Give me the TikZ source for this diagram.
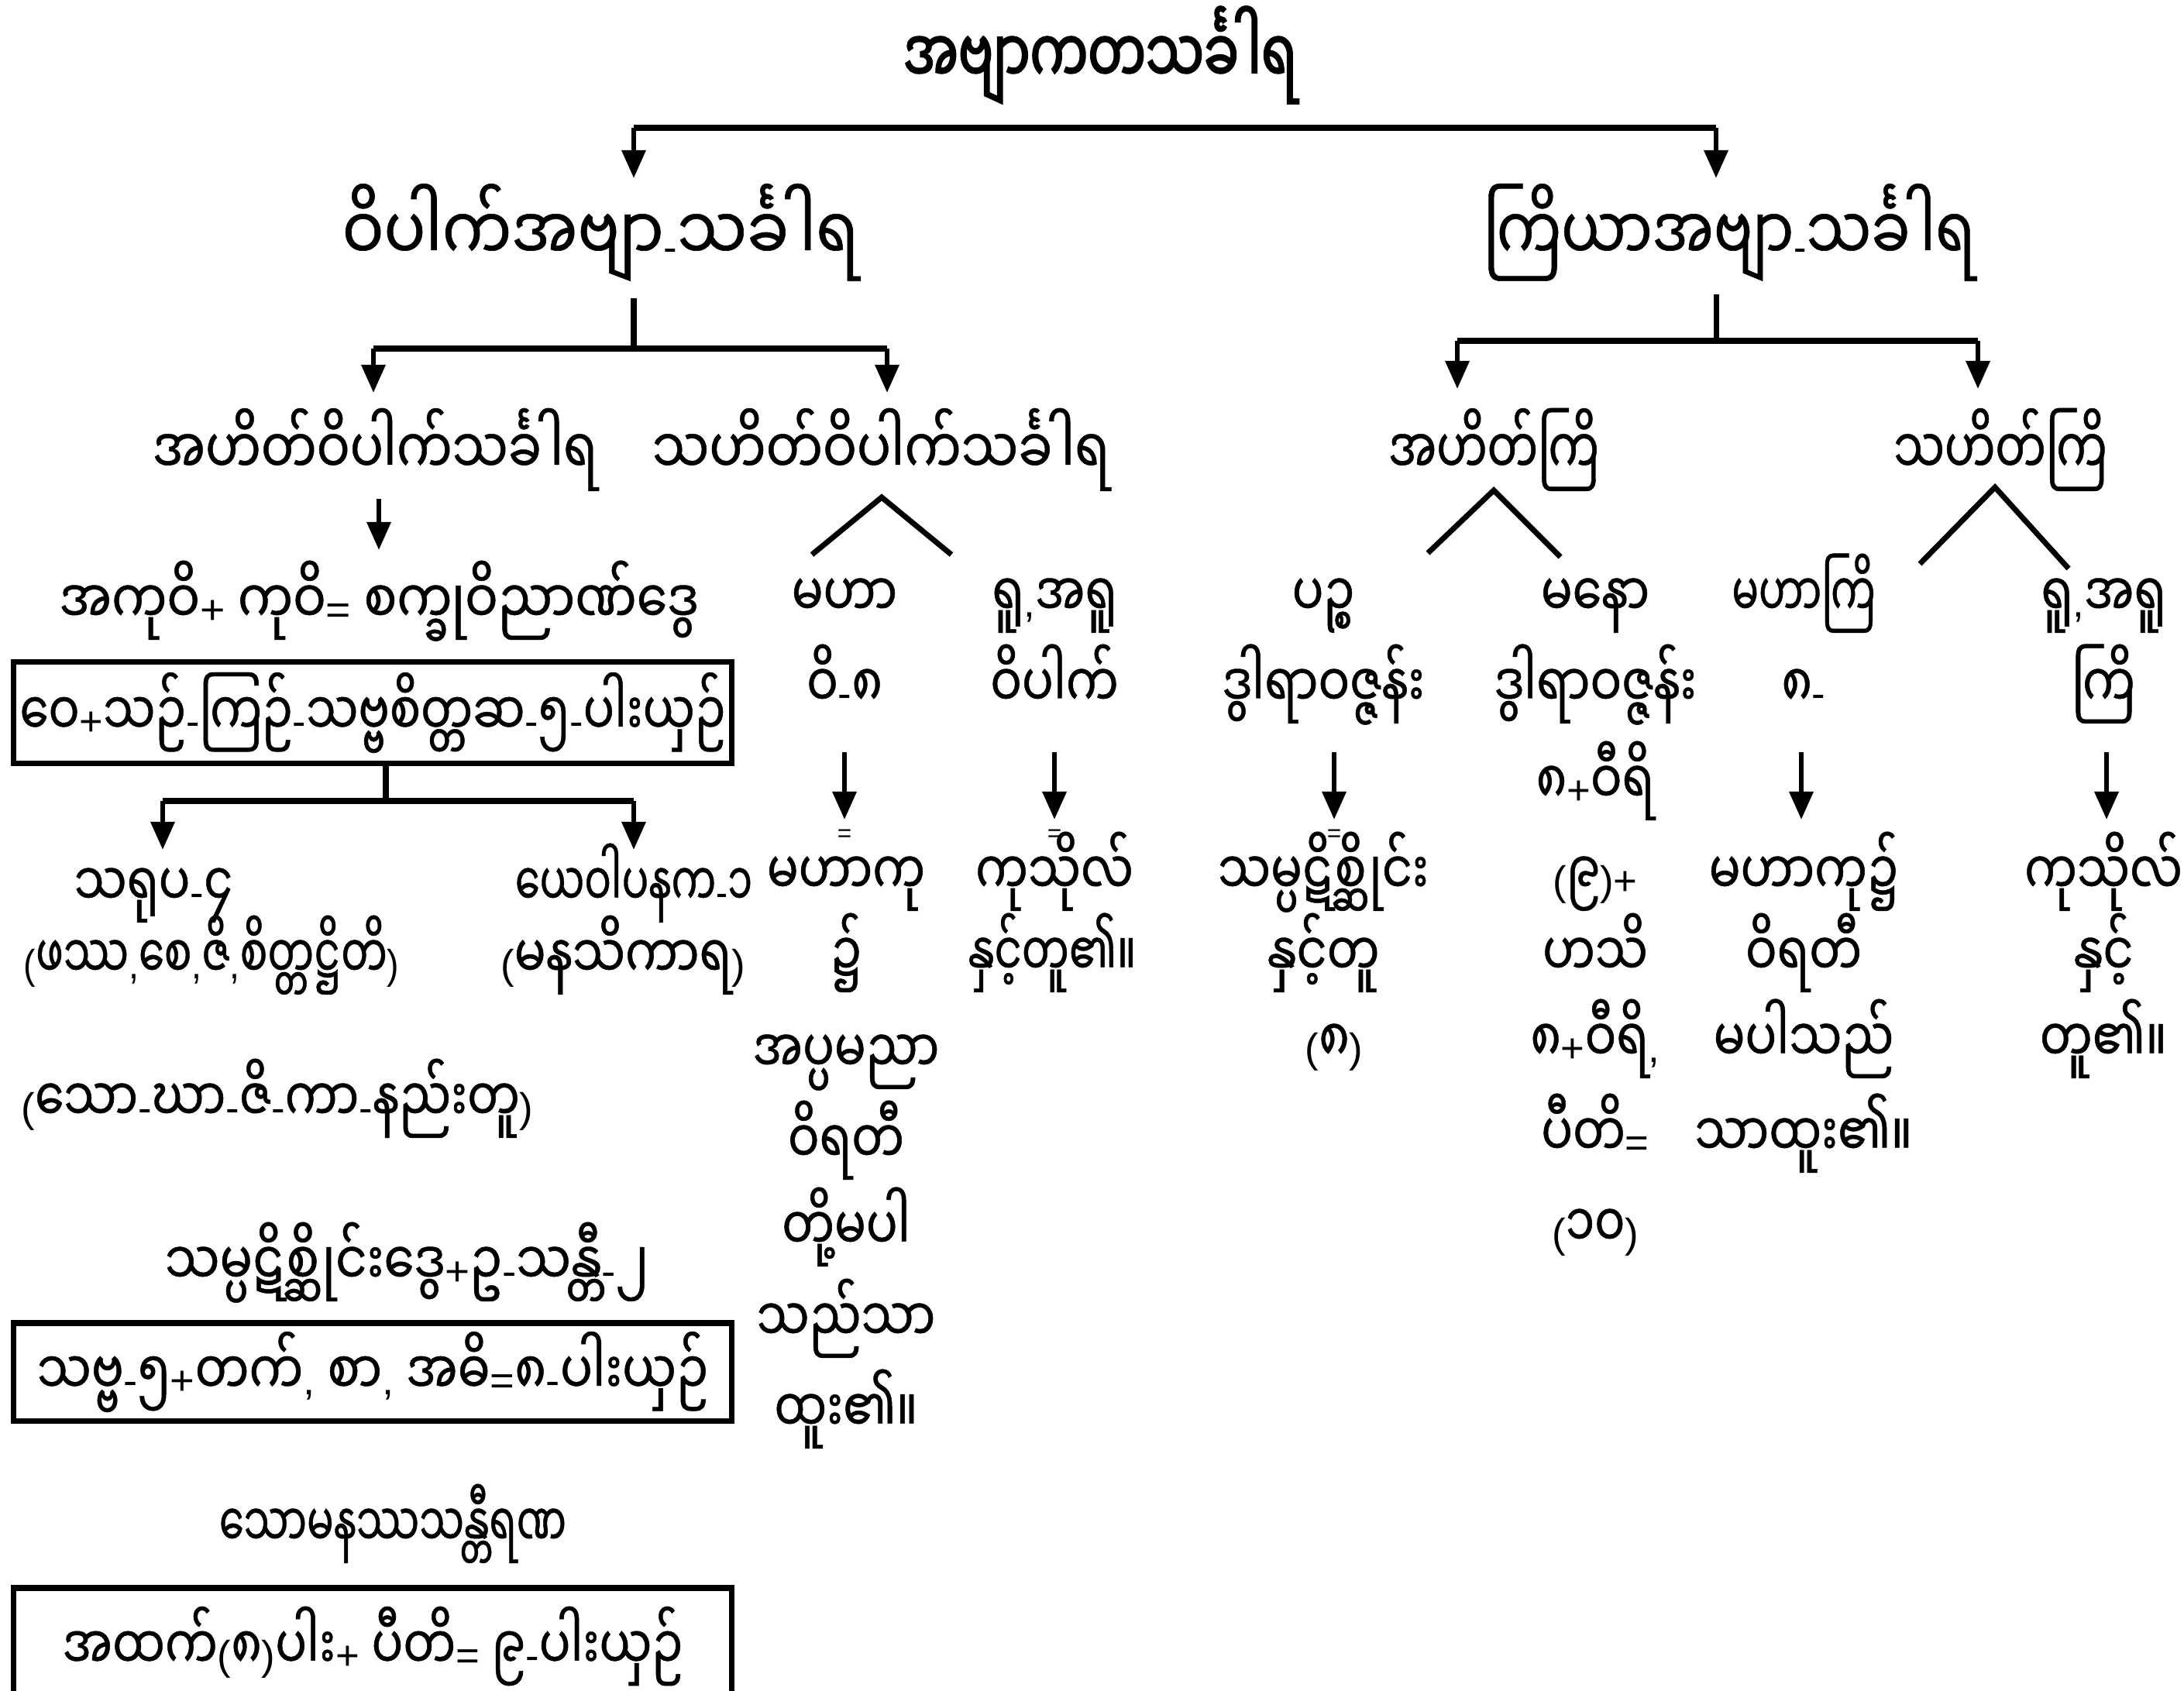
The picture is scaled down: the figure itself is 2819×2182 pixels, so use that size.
\documentclass[tikz,border=0pt]{standalone}
\usepackage{fontspec}
\usetikzlibrary{arrows.meta}
\newfontfamily\mm[Script=Myanmar,FakeStretch=0.78,FakeBold=0.6]{Noto Sans Myanmar UI}
\newfontfamily\mmw[Script=Myanmar,FakeStretch=0.84,FakeBold=0.6]{Noto Sans Myanmar UI}
\newfontfamily\mmk[Script=Myanmar,FakeStretch=0.72,FakeBold=0.6]{Noto Sans Myanmar UI}
\newfontfamily\mmb[Script=Myanmar,FakeStretch=0.70,FakeBold=2.2]{Noto Sans Myanmar UI}
\newfontfamily\lt{Liberation Sans}
\newcommand\la[1]{{\lt\fontsize{15}{18}\selectfont #1}}
\newcommand\sx[2]{\scalebox{#1}[1]{#2}}
\begin{document}
\begin{tikzpicture}[x=0.01cm,y=-0.01cm,
  tx/.style={inner sep=0pt, anchor=base, yshift=-0.19cm, font=\mm\fontsize{22}{26}\selectfont},
  lthree/.style={tx, font=\mmw\fontsize{23}{28}\selectfont},
  lthreek/.style={tx, font=\mmk\fontsize{23}{28}\selectfont},
  ltwo/.style={tx, yshift=-0.03cm, font=\mmw\fontsize{27}{32}\selectfont},
  ttl/.style={tx, yshift=-0.03cm, font=\mmb\fontsize{27}{32}\selectfont},
  ln/.style={line width=2pt},
  arr/.style={line width=1.8pt, -{Triangle[width=0.3cm,length=0.36cm]}},
  bx/.style={draw, line width=2pt, inner sep=0pt, minimum width=9.26cm, font=\mm\fontsize{22}{26}\selectfont},
  eqs/.style={inner sep=0pt, font=\lt\fontsize{9}{10}\selectfont}]
\useasboundingbox (0,0) rectangle (2819,2182);

% title and top bar
\node[ttl] (T) at (1420,86) {အဗျာကတသင်္ခါရ};
\coordinate (t0l) at (818,165);
\coordinate (t0r) at (2215,165);
\coordinate (t1l) at (818,230);
\coordinate (t1r) at (2215,230);
\draw[ln] (t0l) -- (t0r);
\draw[arr] (t0l) -- (t1l);
\draw[arr] (t0r) -- (t1r);

% level 2
\node[ltwo] (V) at (775,315) {ဝိပါက်အဗျာ\la{-}သင်္ခါရ};
\node[ltwo] (K) at (2232,315) {\sx{0.93}{ကြိယာအဗျာ\la{-}သင်္ခါရ}};

\coordinate (va) at (818,385);
\coordinate (vb) at (818,450);
\coordinate (vl) at (482,450);
\coordinate (vr) at (1145,450);
\coordinate (vlt) at (482,507);
\coordinate (vrt) at (1145,507);
\draw[ln] (va) -- (vb);
\draw[ln] (vl) -- (vr);
\draw[arr] (vl) -- (vlt);
\draw[arr] (vr) -- (vrt);

\coordinate (ka) at (2215,380);
\coordinate (kb) at (2215,440);
\coordinate (kl) at (1881,440);
\coordinate (kr) at (2553,440);
\coordinate (klt) at (1881,502);
\coordinate (krt) at (2553,502);
\draw[ln] (ka) -- (kb);
\draw[ln] (kl) -- (kr);
\draw[arr] (kl) -- (klt);
\draw[arr] (kr) -- (krt);

% level 3
\node[lthree] (AV) at (484,593) {\sx{0.94}{အဟိတ်ဝိပါက်သင်္ခါရ}};
\node[lthree] (SV) at (1137,593) {\sx{0.96}{သဟိတ်ဝိပါက်သင်္ခါရ}};
\node[lthreek] (AK) at (1928,593) {အဟိတ်ကြိ};
\node[lthreek] (SK) at (2582,593) {သဟိတ်ကြိ};

% ---------- left column ----------
\coordinate (av1) at (489,644);
\coordinate (av2) at (489,710);
\draw[arr] (av1) -- (av2);
\node[tx] (c1) at (489,786) {\sx{1.05}{အကုဝိ\la{+} ကုဝိ\la{=} စက္ခုဝိညာဏ်ဒွေ}};
\node[bx, minimum height=1.31cm] (b1) at (481,920) {\sx{0.99}{ဝေ\la{+}သဉ်\la{-}ကြဉ်\la{-}သဗ္ဗစိတ္တဆ\la{-}၅\la{-}ပါးယှဉ်}};
\coordinate (b1a) at (498,985);
\coordinate (b1b) at (498,1034);
\coordinate (b1l) at (210,1034);
\coordinate (b1r) at (818,1034);
\coordinate (b1lt) at (210,1097);
\coordinate (b1rt) at (818,1097);
\draw[ln] (b1a) -- (b1b);
\draw[ln] (b1l) -- (b1r);
\draw[arr] (b1l) -- (b1lt);
\draw[arr] (b1r) -- (b1rt);
\node[tx] (s1) at (198,1151) {သရုပ\la{-}၄};
\node[tx] (s2) at (818,1151) {\sx{0.85}{ယေဝါပနက\la{-}၁}};
\node[tx] (s1b) at (273,1244) {\sx{0.88}{\la{(}ဖဿ\la{,}စေ\la{,}ဇိ\la{,}စိတ္တဋ္ဌိတိ\la{)}}};
\node[tx] (s2b) at (804,1244) {\la{(}မနသိကာရ\la{)}};
\node[tx] (c2) at (358,1429) {\la{(}သော\la{-}ဃာ\la{-}ဇိ\la{-}ကာ\la{-}နည်းတူ\la{)}};
\node[tx] (c3) at (525,1640) {\sx{1.04}{သမ္ပဋိစ္ဆိုင်းဒွေ\la{+}ဥ\la{-}သန္တီ\la{-}၂}};
\node[bx, minimum height=1.26cm] (b2) at (481,1771) {\sx{1.03}{သဗ္ဗ\la{-}၅\la{+}တက်\la{,} စာ\la{,} အဓိ\la{=}၈\la{-}ပါးယှဉ်}};
\node[tx] (c4) at (507,1978) {\sx{0.85}{သောမနဿသန္တီရဏ}};
\node[bx, minimum height=1.5cm] (b3) at (481,2125) {အထက်\la{(}၈\la{)}ပါး\la{+} ပီတိ\la{=} ၉\la{-}ပါးယှဉ်};

% ---------- middle column ----------
\coordinate (sva) at (1138,642);
\coordinate (svl) at (1048,716);
\coordinate (svr) at (1228,716);
\draw[ln] (svl) -- (sva) -- (svr);
\node[tx] (m1) at (1090,777) {မဟာ};
\node[tx] (m2) at (1090,894) {ဝိ\la{-}၈};
\coordinate (m2a) at (1090,971);
\coordinate (m2b) at (1090,1058);
\draw[arr] (m2a) -- (m2b);
\node[eqs] (m2e) at (1090,1079) {=};
\node[tx] (m3) at (1092,1136) {မဟာကု};
\node[tx] (m4) at (1092,1241) {၌};
\node[tx] (m5) at (1092,1366) {အပ္ပမညာ};
\node[tx] (m6) at (1092,1483) {ဝိရတီ};
\node[tx] (m7) at (1092,1595) {တို့မပါ};
\node[tx] (m8) at (1092,1713) {သည်သာ};
\node[tx] (m9) at (1092,1830) {ထူး၏။};

\node[tx] (r1) at (1361,777) {ရူ\la{,}အရူ};
\node[tx] (r2) at (1361,894) {ဝိပါက်};
\coordinate (r2a) at (1361,971);
\coordinate (r2b) at (1361,1058);
\draw[arr] (r2a) -- (r2b);
\node[eqs] (r2e) at (1361,1079) {=};
\node[tx] (r3) at (1361,1136) {ကုသိုလ်};
\node[tx] (r4) at (1358,1241) {\sx{0.9}{နှင့်တူ၏။}};

% ---------- ahetuka kiriya ----------
\coordinate (aka) at (1928,633);
\coordinate (akl) at (1843,714);
\coordinate (akr) at (2014,719);
\draw[ln] (akl) -- (aka) -- (akr);
\node[tx] (p1) at (1708,777) {ပဉ္စ};
\node[tx] (p2) at (1708,894) {ဒွါရာဝဇ္ဇန်း};
\coordinate (p2a) at (1722,971);
\coordinate (p2b) at (1722,1058);
\draw[arr] (p2a) -- (p2b);
\node[eqs] (p2e) at (1722,1079) {=};
\node[tx] (p3) at (1708,1136) {သမ္ပဋိစ္ဆိုင်း};
\node[tx] (p4) at (1708,1241) {နှင့်တူ};
\node[tx] (p5) at (1722,1352) {\la{(}၈\la{)}};

\node[tx] (n1) at (2059,777) {မနော};
\node[tx] (n2) at (2059,894) {ဒွါရာဝဇ္ဇန်း};
\node[tx] (n3) at (2059,1019) {၈\la{+}ဝီရိ};
\node[tx] (n4) at (2059,1136) {\la{(}၉\la{)+}};
\node[tx] (n5) at (2059,1241) {ဟသိ};
\node[tx] (n6) at (2059,1352) {၈\la{+}ဝီရိ\la{,}};
\node[tx] (n7) at (2059,1474) {ပီတိ\la{=}};
\node[tx] (n8) at (2059,1591) {\la{(}၁၀\la{)}};

% ---------- sahetuka kiriya ----------
\coordinate (ska) at (2575,629);
\coordinate (skl) at (2478,728);
\coordinate (skr) at (2670,734);
\draw[ln] (skl) -- (ska) -- (skr);
\node[tx] (q1) at (2328,777) {\sx{0.85}{မဟာကြိ}};
\node[tx] (q2) at (2328,894) {၈\la{-}};
\coordinate (q2a) at (2325,971);
\coordinate (q2b) at (2325,1058);
\draw[arr] (q2a) -- (q2b);
\node[tx] (q3) at (2328,1136) {မဟာကု၌};
\node[tx] (q4) at (2328,1241) {ဝိရတီ};
\node[tx] (q5) at (2328,1352) {မပါသည်};
\node[tx] (q6) at (2328,1474) {သာထူး၏။};

\node[tx] (u1) at (2715,777) {ရူ\la{,}အရူ};
\node[tx] (u2) at (2715,894) {ကြိ};
\coordinate (u2a) at (2719,971);
\coordinate (u2b) at (2719,1058);
\draw[arr] (u2a) -- (u2b);
\node[tx] (u3) at (2715,1136) {ကုသိုလ်};
\node[tx] (u4) at (2715,1241) {နှင့်};
\node[tx] (u5) at (2715,1352) {တူ၏။};
\end{tikzpicture}
\end{document}
